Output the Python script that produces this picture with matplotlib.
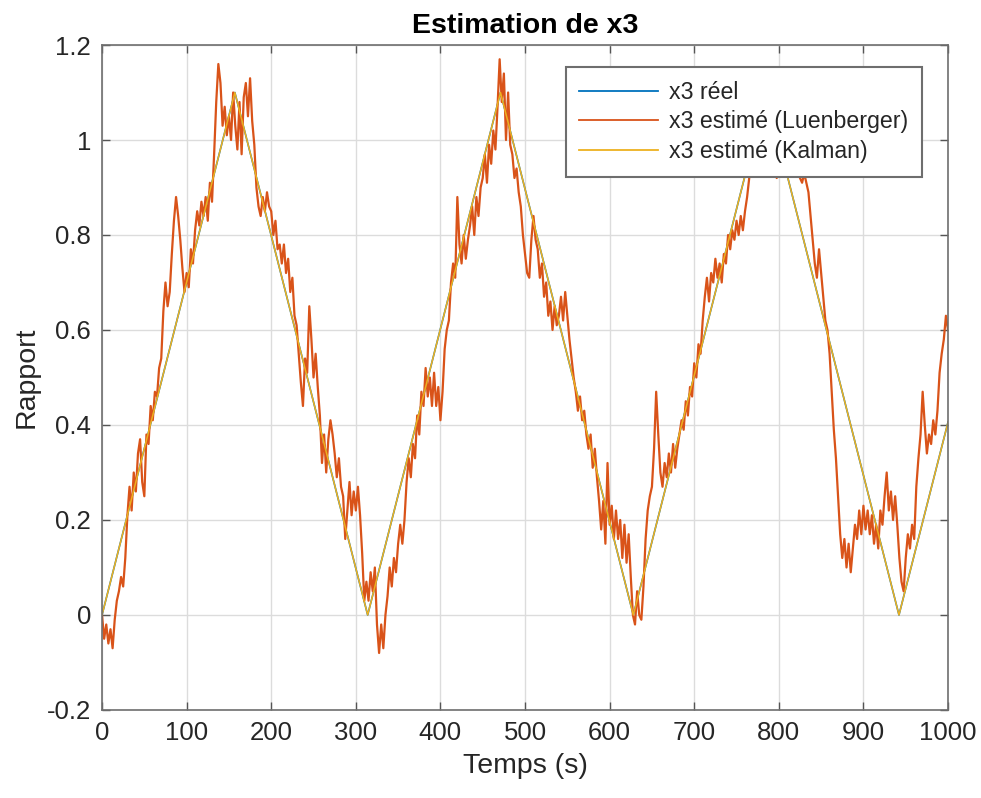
import numpy as np
import matplotlib
matplotlib.use("Agg")
import matplotlib.pyplot as plt

# Corner points of the true state x3 (triangle signal) and the Kalman estimate
t_vertices = [0, 157, 314, 471, 628, 785, 942, 1000]
x3_real = [0.0, 1.1, 0.0, 1.1, 0.0, 1.1, 0.0, 0.406]
x3_kalman = [0.0, 1.1, 0.0, 1.1, 0.0, 1.1, 0.0, 0.406]

# Luenberger observer estimate, sampled every 2.5 s from 0 to 1000 s
luenberger_step = 2.5
x3_luenberger = [
    0.00, -0.05, -0.02, -0.06, -0.03, -0.07, -0.01, 0.03,
    0.05, 0.08, 0.06, 0.12, 0.21, 0.27, 0.22, 0.30,
    0.26, 0.34, 0.37, 0.28, 0.25, 0.38, 0.36, 0.44,
    0.41, 0.47, 0.46, 0.52, 0.54, 0.64, 0.70, 0.65,
    0.68, 0.76, 0.83, 0.88, 0.84, 0.79, 0.73, 0.68,
    0.72, 0.69, 0.77, 0.74, 0.81, 0.85, 0.82, 0.87,
    0.84, 0.88, 0.83, 0.91, 0.87, 0.97, 1.08, 1.16,
    1.12, 1.03, 1.07, 1.01, 1.05, 1.00, 1.10, 1.03,
    0.98, 1.08, 0.97, 1.09, 1.12, 1.05, 1.13, 1.04,
    0.99, 0.90, 0.86, 0.84, 0.88, 0.85, 0.89, 0.86,
    0.85, 0.80, 0.83, 0.77, 0.78, 0.74, 0.78, 0.72,
    0.75, 0.68, 0.71, 0.63, 0.61, 0.55, 0.49, 0.44,
    0.54, 0.51, 0.65, 0.58, 0.50, 0.55, 0.48, 0.42,
    0.32, 0.38, 0.30, 0.37, 0.41, 0.38, 0.34, 0.29,
    0.33, 0.27, 0.25, 0.16, 0.22, 0.28, 0.21, 0.26,
    0.22, 0.27, 0.21, 0.13, 0.03, 0.07, 0.03, 0.09,
    0.05, 0.10, -0.02, -0.08, -0.02, -0.07, 0.00, 0.04,
    0.10, 0.06, 0.12, 0.09, 0.15, 0.19, 0.15, 0.20,
    0.28, 0.33, 0.29, 0.36, 0.33, 0.42, 0.38, 0.47,
    0.44, 0.52, 0.46, 0.50, 0.44, 0.51, 0.44, 0.48,
    0.41, 0.47, 0.56, 0.60, 0.62, 0.70, 0.74, 0.71,
    0.88, 0.78, 0.74, 0.80, 0.75, 0.79, 0.82, 0.86,
    0.80, 0.88, 0.84, 0.90, 0.92, 0.97, 0.91, 0.99,
    0.95, 1.02, 0.98, 1.07, 1.17, 1.08, 1.14, 1.00,
    1.10, 0.99, 0.97, 0.92, 0.94, 0.89, 0.86, 0.80,
    0.76, 0.72, 0.71, 0.79, 0.84, 0.79, 0.77, 0.71,
    0.74, 0.67, 0.70, 0.63, 0.66, 0.60, 0.65, 0.61,
    0.63, 0.67, 0.62, 0.68, 0.63, 0.58, 0.54, 0.50,
    0.47, 0.43, 0.46, 0.41, 0.43, 0.38, 0.35, 0.38,
    0.31, 0.35, 0.29, 0.24, 0.18, 0.24, 0.15, 0.32,
    0.19, 0.23, 0.16, 0.22, 0.16, 0.20, 0.12, 0.19,
    0.11, 0.17, 0.08, 0.00, -0.02, 0.05, 0.00, -0.01,
    0.06, 0.16, 0.22, 0.25, 0.27, 0.35, 0.47, 0.38,
    0.30, 0.27, 0.32, 0.29, 0.34, 0.30, 0.36, 0.31,
    0.35, 0.38, 0.41, 0.39, 0.45, 0.42, 0.48, 0.46,
    0.53, 0.50, 0.57, 0.55, 0.62, 0.67, 0.71, 0.66,
    0.72, 0.70, 0.75, 0.71, 0.74, 0.70, 0.76, 0.74,
    0.80, 0.77, 0.81, 0.79, 0.83, 0.80, 0.84, 0.81,
    0.85, 0.88, 0.92, 0.96, 0.98, 1.01, 1.04, 1.02,
    1.06, 1.03, 1.05, 1.00, 0.96, 0.93, 0.95, 0.92,
    0.94, 0.93, 0.96, 0.94, 0.98, 0.96, 0.99, 0.97,
    0.95, 0.93, 0.92, 0.91, 0.93, 0.91, 0.89, 0.84,
    0.79, 0.74, 0.71, 0.77, 0.72, 0.67, 0.62, 0.60,
    0.55, 0.47, 0.39, 0.33, 0.25, 0.17, 0.12, 0.16,
    0.10, 0.15, 0.09, 0.14, 0.19, 0.16, 0.22, 0.17,
    0.23, 0.18, 0.22, 0.17, 0.21, 0.15, 0.19, 0.14,
    0.22, 0.19, 0.25, 0.30, 0.22, 0.26, 0.20, 0.25,
    0.19, 0.12, 0.07, 0.05, 0.12, 0.17, 0.14, 0.19,
    0.16, 0.27, 0.33, 0.38, 0.47, 0.40, 0.34, 0.38,
    0.36, 0.41, 0.38, 0.43, 0.51, 0.55, 0.58, 0.63,
    0.60,
]

x_ticks = [0, 100, 200, 300, 400, 500, 600, 700, 800, 900, 1000]
y_ticks = [-0.2, 0, 0.2, 0.4, 0.6, 0.8, 1.0, 1.2]
y_tick_labels = ["-0.2", "0", "0.2", "0.4", "0.6", "0.8", "1", "1.2"]

plt.rcParams["font.family"] = ["Liberation Sans", "DejaVu Sans"]

t_luen = np.arange(len(x3_luenberger)) * luenberger_step

fig = plt.figure(figsize=(9.81, 7.98), dpi=100)
ax = fig.add_axes([0.104, 0.1103, 0.8624, 0.8333])

c_blue = "#0072BD"
c_orange = "#D95319"
c_yellow = "#EDB120"
txt = "#262626"

ax.plot(t_vertices, x3_real, color=c_blue, lw=1.2, label="x3 réel")
ax.plot(t_luen, x3_luenberger, color=c_orange, lw=1.6, label="x3 estimé (Luenberger)")
ax.plot(t_vertices, x3_kalman, color=c_yellow, lw=1.1, label="x3 estimé (Kalman)")

ax.set_xlim(0, 1000)
ax.set_ylim(-0.2, 1.2)
ax.set_xticks(x_ticks)
ax.set_yticks(y_ticks)
ax.set_yticklabels(y_tick_labels)

ax.grid(True, color="#dcdcdc", lw=1.0)
ax.set_axisbelow(True)
for s in ax.spines.values():
    s.set_color("#6e6e6e")
    s.set_linewidth(1.2)
ax.tick_params(direction="in", length=6, width=1.0, color="#555555",
               top=True, right=True, labelsize=18.5, labelcolor=txt, pad=8)

ax.set_xlabel("Temps (s)", fontsize=20.5, color=txt, labelpad=6)
ax.set_ylabel("Rapport", fontsize=20.5, color=txt, labelpad=5)
ax.set_title("Estimation de x3", fontsize=20.5, fontweight="bold", color="black", pad=9)

leg = ax.legend(loc="upper right", bbox_to_anchor=(0.969, 0.967), borderaxespad=0,
                fontsize=16.7, frameon=True, fancybox=False, framealpha=1,
                handlelength=3.4, handletextpad=0.45, labelspacing=0.28,
                borderpad=0.6)
leg.get_frame().set_edgecolor("#6e6e6e")
leg.get_frame().set_linewidth(1.5)
for t in leg.get_texts():
    t.set_color(txt)
for h in leg.get_lines():
    h.set_linewidth(1.3)

fig.savefig("out.png", dpi=100)
